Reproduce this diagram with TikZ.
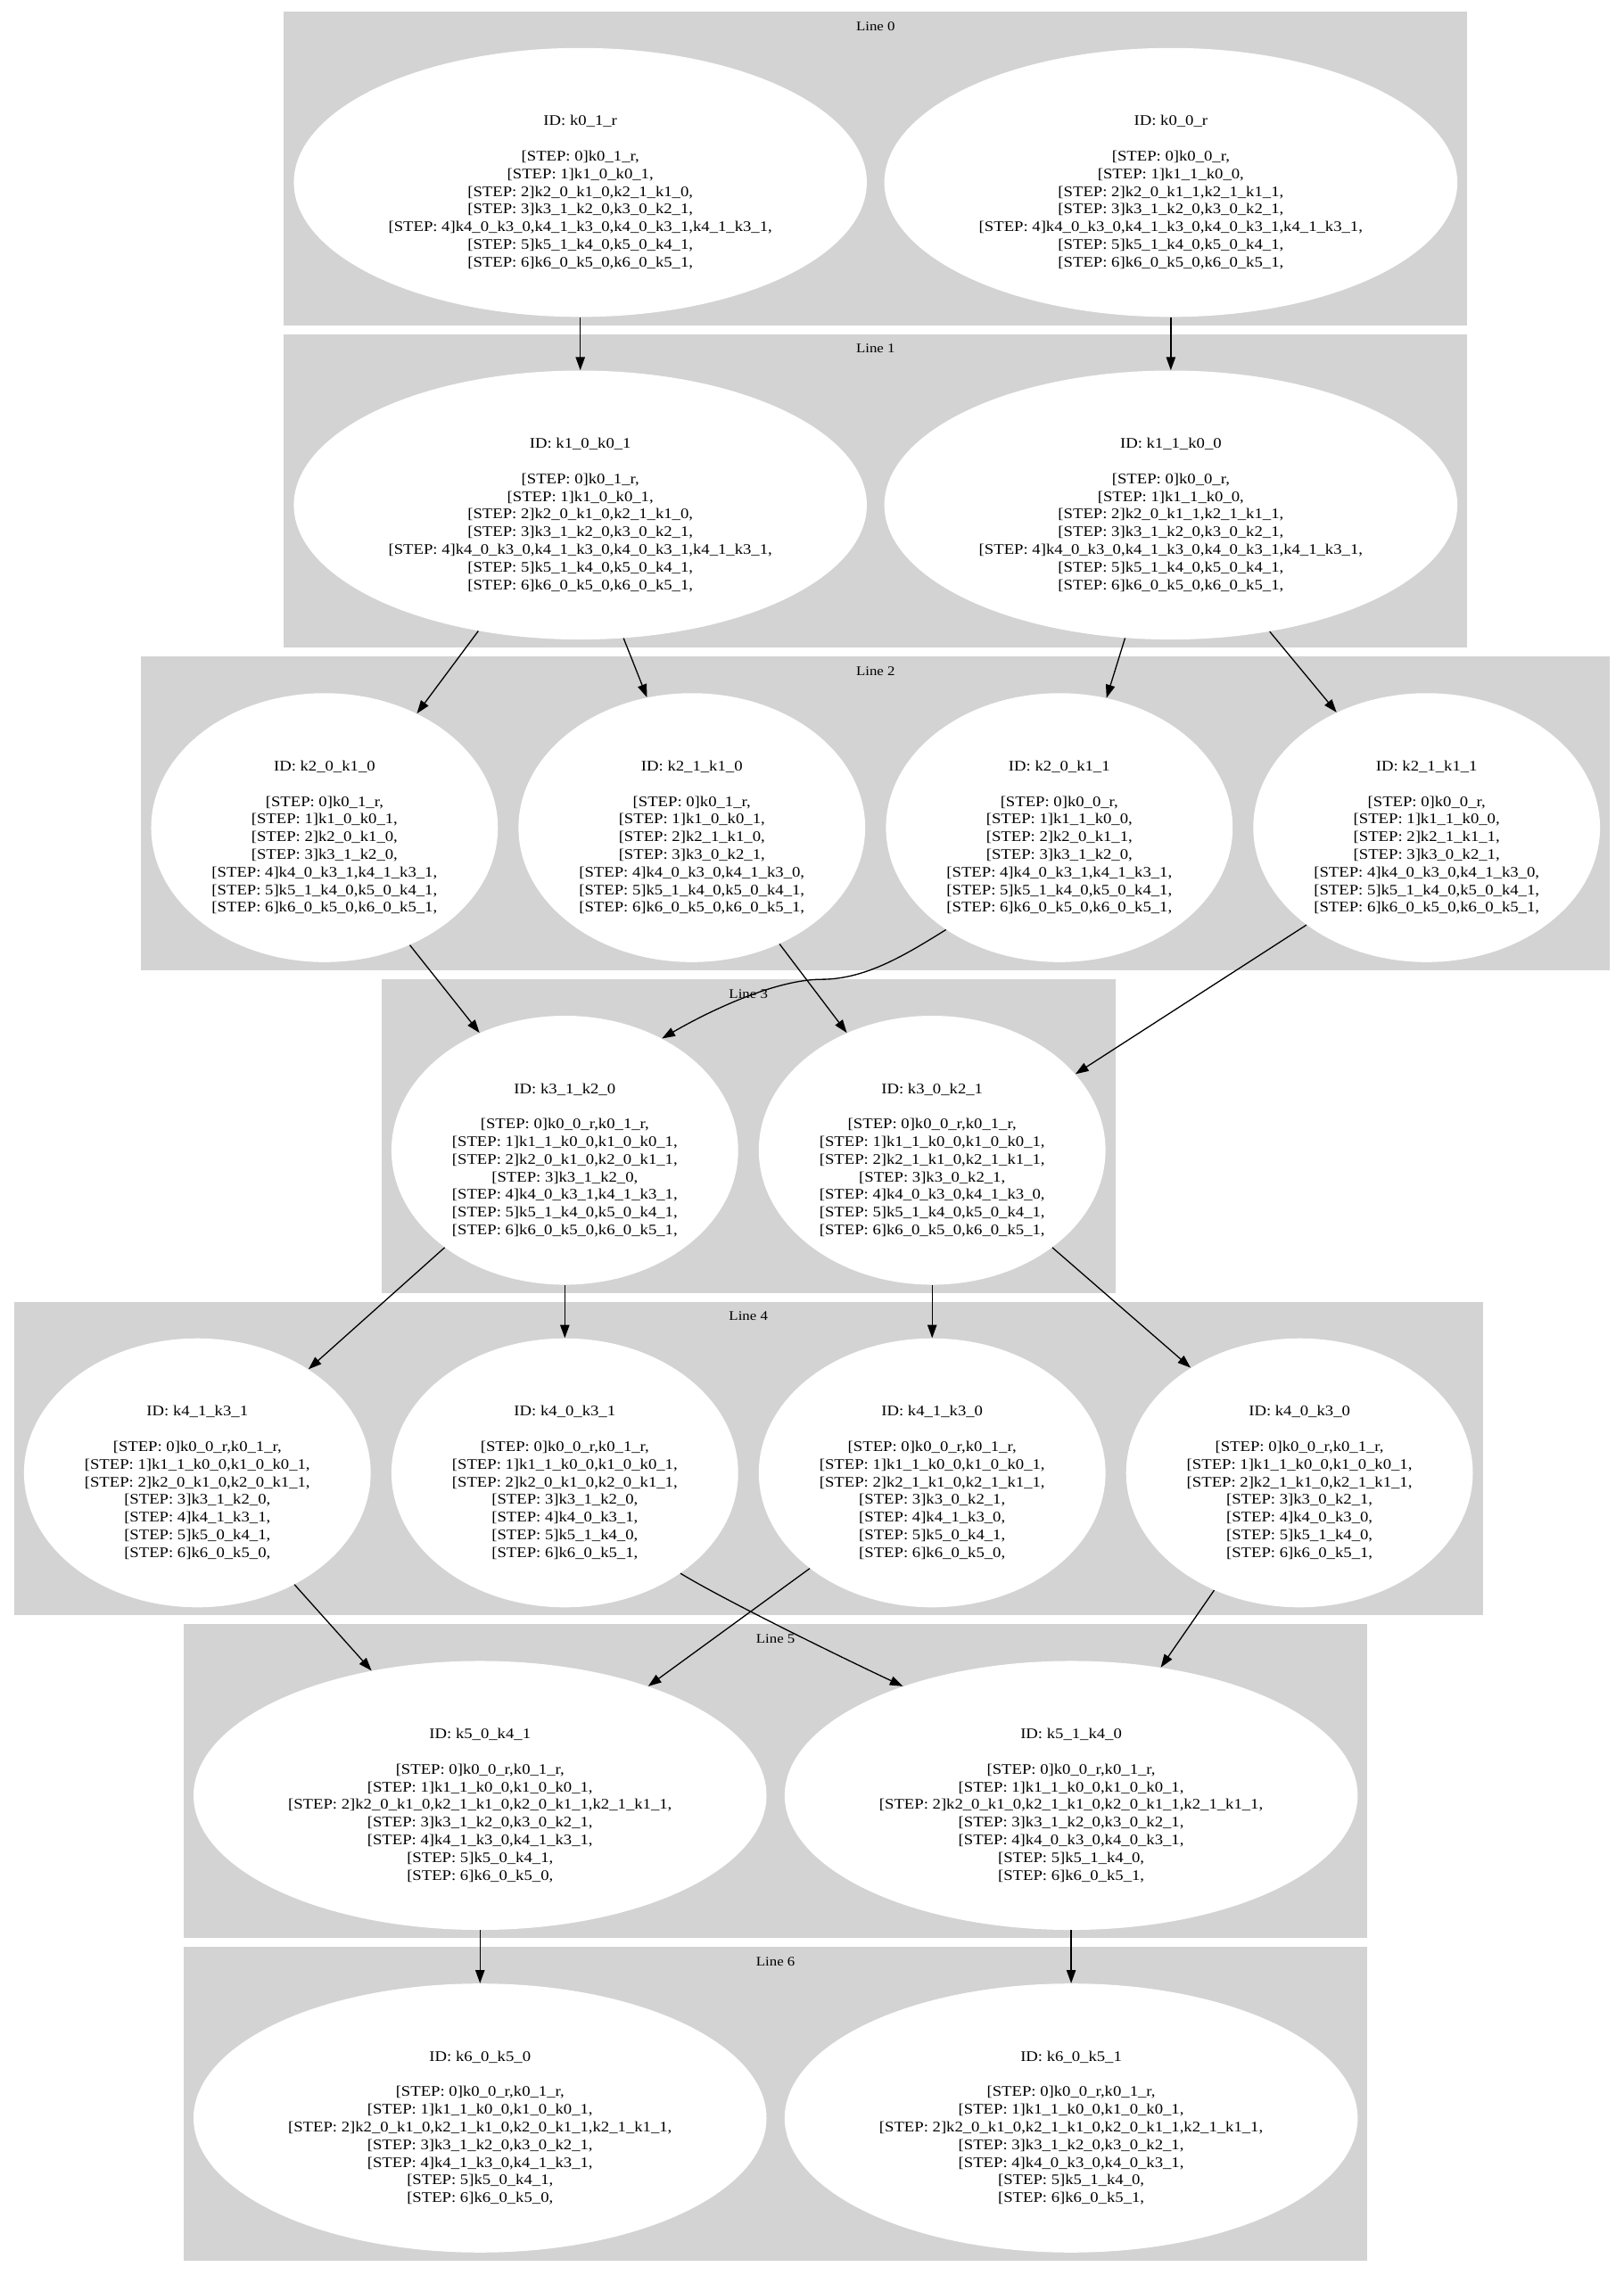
\documentclass[tikz,border=0pt]{standalone}
\usepackage{fontspec}
\setmainfont{Liberation Serif}[FakeStretch=1.14]
\usetikzlibrary{arrows.meta,shapes.geometric}
\definecolor{clgray}{HTML}{D3D3D3}
\newcommand\ntext[8]{\strut\\ID: #1\\[\baselineskip]\relax[STEP: 0]#2,\\\relax[STEP: 1]#3,\\\relax[STEP: 2]#4,\\\relax[STEP: 3]#5,\\\relax[STEP: 4]#6,\\\relax[STEP: 5]#7,\\\relax[STEP: 6]#8,}
\begin{document}
\catcode`\_=12
\begin{tikzpicture}[x=1pt,y=1pt,
  clusterbox/.style={fill=clgray,draw=none},
  clabel/.style={font=\fontsize{9}{10}\selectfont,inner sep=0pt},
  bignode/.style={ellipse,fill=white,draw=none,minimum width=392pt,minimum height=184pt,inner sep=0pt,align=center,font=\fontsize{10}{12.08}\selectfont},
  smallnode/.style={bignode,minimum width=237.2pt},
  conn/.style={draw=black,line width=0.8pt,-{Triangle[length=9pt,width=6.3pt]}}]
\fill[white] (0,0) rectangle (1111,-1556.4);
\useasboundingbox (0,0) rectangle (1111,-1556.4);
% clusters
\fill[clusterbox] (194.2,-7.8) rectangle (1003.8,-222.4);
\fill[clusterbox] (194.2,-228.5) rectangle (1003.8,-443.1);
\fill[clusterbox] (96.6,-449.2) rectangle (1101.4,-663.8);
\fill[clusterbox] (261,-669.9) rectangle (763.1,-884.5);
\fill[clusterbox] (9.6,-890.6) rectangle (1014.4,-1105.2);
\fill[clusterbox] (125.6,-1111.3) rectangle (935.6,-1325.9);
\fill[clusterbox] (125.6,-1332.0) rectangle (935.6,-1546.6);
\node[clabel] (lab0) at (599,-17.8) {Line 0};
\node[clabel] (lab1) at (599,-238.5) {Line 1};
\node[clabel] (lab2) at (599,-459.2) {Line 2};
\node[clabel] (lab3) at (512,-679.9) {Line 3};
\node[clabel] (lab4) at (512,-900.6) {Line 4};
\node[clabel] (lab5) at (530.6,-1121.3) {Line 5};
\node[clabel] (lab6) at (530.6,-1342.0) {Line 6};
% line 0
\node[bignode] (k01r) at (397,-124.8) {\ntext{k0_1_r}{k0_1_r}{k1_0_k0_1}{k2_0_k1_0,k2_1_k1_0}{k3_1_k2_0,k3_0_k2_1}{k4_0_k3_0,k4_1_k3_0,k4_0_k3_1,k4_1_k3_1}{k5_1_k4_0,k5_0_k4_1}{k6_0_k5_0,k6_0_k5_1}};
\node[bignode] (k00r) at (801,-124.8) {\ntext{k0_0_r}{k0_0_r}{k1_1_k0_0}{k2_0_k1_1,k2_1_k1_1}{k3_1_k2_0,k3_0_k2_1}{k4_0_k3_0,k4_1_k3_0,k4_0_k3_1,k4_1_k3_1}{k5_1_k4_0,k5_0_k4_1}{k6_0_k5_0,k6_0_k5_1}};
% line 1
\node[bignode] (k10k01) at (397,-345.5) {\ntext{k1_0_k0_1}{k0_1_r}{k1_0_k0_1}{k2_0_k1_0,k2_1_k1_0}{k3_1_k2_0,k3_0_k2_1}{k4_0_k3_0,k4_1_k3_0,k4_0_k3_1,k4_1_k3_1}{k5_1_k4_0,k5_0_k4_1}{k6_0_k5_0,k6_0_k5_1}};
\node[bignode] (k11k00) at (801,-345.5) {\ntext{k1_1_k0_0}{k0_0_r}{k1_1_k0_0}{k2_0_k1_1,k2_1_k1_1}{k3_1_k2_0,k3_0_k2_1}{k4_0_k3_0,k4_1_k3_0,k4_0_k3_1,k4_1_k3_1}{k5_1_k4_0,k5_0_k4_1}{k6_0_k5_0,k6_0_k5_1}};
% line 2
\node[smallnode] (k20k10) at (222,-566.2) {\ntext{k2_0_k1_0}{k0_1_r}{k1_0_k0_1}{k2_0_k1_0}{k3_1_k2_0}{k4_0_k3_1,k4_1_k3_1}{k5_1_k4_0,k5_0_k4_1}{k6_0_k5_0,k6_0_k5_1}};
\node[smallnode] (k21k10) at (473.3,-566.2) {\ntext{k2_1_k1_0}{k0_1_r}{k1_0_k0_1}{k2_1_k1_0}{k3_0_k2_1}{k4_0_k3_0,k4_1_k3_0}{k5_1_k4_0,k5_0_k4_1}{k6_0_k5_0,k6_0_k5_1}};
\node[smallnode] (k20k11) at (724.7,-566.2) {\ntext{k2_0_k1_1}{k0_0_r}{k1_1_k0_0}{k2_0_k1_1}{k3_1_k2_0}{k4_0_k3_1,k4_1_k3_1}{k5_1_k4_0,k5_0_k4_1}{k6_0_k5_0,k6_0_k5_1}};
\node[smallnode] (k21k11) at (976,-566.2) {\ntext{k2_1_k1_1}{k0_0_r}{k1_1_k0_0}{k2_1_k1_1}{k3_0_k2_1}{k4_0_k3_0,k4_1_k3_0}{k5_1_k4_0,k5_0_k4_1}{k6_0_k5_0,k6_0_k5_1}};
% line 3
\node[smallnode] (k31k20) at (386.4,-786.9) {\ntext{k3_1_k2_0}{k0_0_r,k0_1_r}{k1_1_k0_0,k1_0_k0_1}{k2_0_k1_0,k2_0_k1_1}{k3_1_k2_0}{k4_0_k3_1,k4_1_k3_1}{k5_1_k4_0,k5_0_k4_1}{k6_0_k5_0,k6_0_k5_1}};
\node[smallnode] (k30k21) at (637.7,-786.9) {\ntext{k3_0_k2_1}{k0_0_r,k0_1_r}{k1_1_k0_0,k1_0_k0_1}{k2_1_k1_0,k2_1_k1_1}{k3_0_k2_1}{k4_0_k3_0,k4_1_k3_0}{k5_1_k4_0,k5_0_k4_1}{k6_0_k5_0,k6_0_k5_1}};
% line 4
\node[smallnode] (k41k31) at (135,-1007.6) {\ntext{k4_1_k3_1}{k0_0_r,k0_1_r}{k1_1_k0_0,k1_0_k0_1}{k2_0_k1_0,k2_0_k1_1}{k3_1_k2_0}{k4_1_k3_1}{k5_0_k4_1}{k6_0_k5_0}};
\node[smallnode] (k40k31) at (386.4,-1007.6) {\ntext{k4_0_k3_1}{k0_0_r,k0_1_r}{k1_1_k0_0,k1_0_k0_1}{k2_0_k1_0,k2_0_k1_1}{k3_1_k2_0}{k4_0_k3_1}{k5_1_k4_0}{k6_0_k5_1}};
\node[smallnode] (k41k30) at (637.7,-1007.6) {\ntext{k4_1_k3_0}{k0_0_r,k0_1_r}{k1_1_k0_0,k1_0_k0_1}{k2_1_k1_0,k2_1_k1_1}{k3_0_k2_1}{k4_1_k3_0}{k5_0_k4_1}{k6_0_k5_0}};
\node[smallnode] (k40k30) at (889,-1007.6) {\ntext{k4_0_k3_0}{k0_0_r,k0_1_r}{k1_1_k0_0,k1_0_k0_1}{k2_1_k1_0,k2_1_k1_1}{k3_0_k2_1}{k4_0_k3_0}{k5_1_k4_0}{k6_0_k5_1}};
% line 5
\node[bignode] (k50k41) at (328.4,-1228.3) {\ntext{k5_0_k4_1}{k0_0_r,k0_1_r}{k1_1_k0_0,k1_0_k0_1}{k2_0_k1_0,k2_1_k1_0,k2_0_k1_1,k2_1_k1_1}{k3_1_k2_0,k3_0_k2_1}{k4_1_k3_0,k4_1_k3_1}{k5_0_k4_1}{k6_0_k5_0}};
\node[bignode] (k51k40) at (732.8,-1228.3) {\ntext{k5_1_k4_0}{k0_0_r,k0_1_r}{k1_1_k0_0,k1_0_k0_1}{k2_0_k1_0,k2_1_k1_0,k2_0_k1_1,k2_1_k1_1}{k3_1_k2_0,k3_0_k2_1}{k4_0_k3_0,k4_0_k3_1}{k5_1_k4_0}{k6_0_k5_1}};
% line 6
\node[bignode] (k60k50) at (328.4,-1449.0) {\ntext{k6_0_k5_0}{k0_0_r,k0_1_r}{k1_1_k0_0,k1_0_k0_1}{k2_0_k1_0,k2_1_k1_0,k2_0_k1_1,k2_1_k1_1}{k3_1_k2_0,k3_0_k2_1}{k4_1_k3_0,k4_1_k3_1}{k5_0_k4_1}{k6_0_k5_0}};
\node[bignode] (k60k51) at (732.8,-1449.0) {\ntext{k6_0_k5_1}{k0_0_r,k0_1_r}{k1_1_k0_0,k1_0_k0_1}{k2_0_k1_0,k2_1_k1_0,k2_0_k1_1,k2_1_k1_1}{k3_1_k2_0,k3_0_k2_1}{k4_0_k3_0,k4_0_k3_1}{k5_1_k4_0}{k6_0_k5_1}};
% edges
\draw[conn] (k01r) -- (k10k01);
\draw[conn] (k00r) -- (k11k00);
\draw[conn] (k10k01.231.6) -- (k20k10.51.3);
\draw[conn] (k10k01.288.4) -- (k21k10.109);
\draw[conn] (k11k00.251.3) -- (k20k11.70.9);
\draw[conn] (k11k00.308.8) -- (k21k11.128.5);
\draw[conn] (k20k10.306.8) -- (k31k20.126.3);
\draw[conn] (k21k10.307.3) -- (k30k21.126.3);
\draw[conn] (k20k11.222.9) .. controls (619,-653.5) and (592,-670) .. (562,-670) .. controls (532,-670) and (488,-690) .. (k31k20.49.3);
\draw[conn] (k21k11.219.4) -- (k30k21.28.8);
\draw[conn] (k31k20.219.2) -- (k41k31.43.4);
\draw[conn] (k31k20) -- (k40k31);
\draw[conn] (k30k21) -- (k41k30);
\draw[conn] (k30k21.321.5) -- (k40k30.136.7);
\draw[conn] (k41k31.311.6) -- (k50k41.131);
\draw[conn] (k40k31.319.2) .. controls (496.4,-1095.2) and (580.5,-1136.2) .. (k51k40.147.8);
\draw[conn] (k41k30.218.6) -- (k50k41.33);
\draw[conn] (k40k30.234.3) -- (k51k40.55);
\draw[conn] (k50k41) -- (k60k50);
\draw[conn] (k51k40) -- (k60k51);
\end{tikzpicture}
\end{document}
